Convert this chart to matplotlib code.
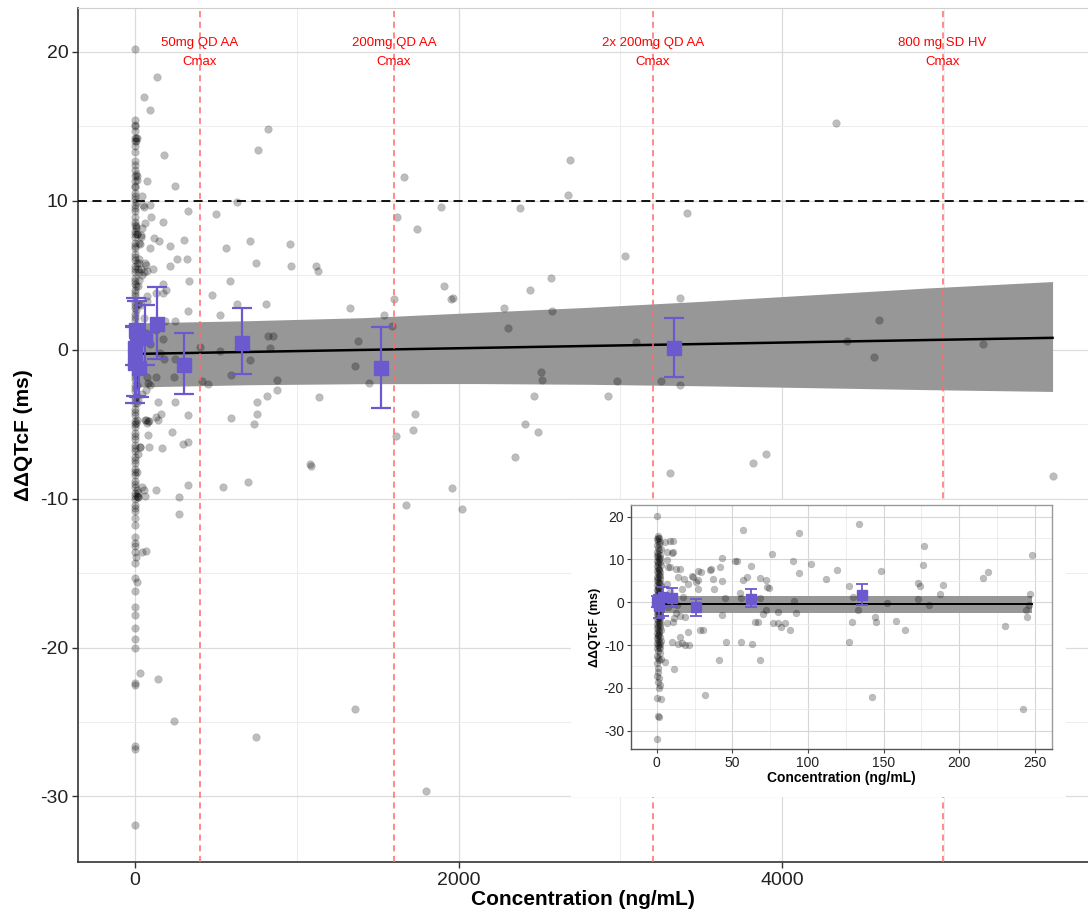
import matplotlib
matplotlib.use('Agg')
import matplotlib.pyplot as plt
from matplotlib.patches import Rectangle
import numpy as np

plt.rcParams['font.family'] = ['Liberation Sans', 'DejaVu Sans']
plt.rcParams['axes.unicode_minus'] = False

# ---------------- data ----------------
# observations at (near) zero concentration
zero_conc = [0.3, 0.6, 1.1, 0.4, 0.9, 1.3, 0.2, 0.7, 1.2, 0.5, 1.0, 0.3, 0.8, 1.4, 0.2, 0.6,
             1.1, 0.4, 0.9, 1.3, 0.2, 0.7, 1.2, 0.5, 1.0, 0.3, 0.8, 1.4, 0.2, 0.6, 1.1, 0.4,
             0.9, 1.3, 0.2, 0.7, 1.2, 0.5, 1.0, 0.3, 0.8, 1.4, 0.2, 0.6, 1.1, 0.4, 0.9, 1.3,
             0.2, 0.7, 1.2, 0.5, 1.0, 0.3, 0.8, 1.4, 0.2, 0.6, 1.1, 0.4, 0.9, 1.3, 0.2, 0.7,
             1.2, 0.5, 1.0, 0.3, 0.8, 1.4, 0.2, 0.6, 1.1, 0.4, 0.9, 1.3, 0.2, 0.7, 0.4]
zero_dqtc = [20.2, 15.4, 15.1, 14.7, 14.2, 13.7, 13.3, 12.7, 12.1, 11.7, 11.3, 10.9, 10.5, 10.1,
             9.7, 9.3, 8.9, 8.4, 8.0, 7.6, 7.2, 6.8, 6.4, 6.0, 5.6, 5.2, 4.8, 4.4, 4.0, 3.6,
             3.2, 2.8, 2.4, 2.0, 1.6, 1.2, 0.8, 0.4, 0.0, -0.4, -0.8, -1.2, -1.6, -2.0, -2.4,
             -2.8, -3.2, -3.6, -4.0, -4.4, -4.8, -5.2, -5.6, -6.0, -6.4, -6.8, -7.2, -7.6,
             -8.0, -8.4, -8.8, -9.2, -9.6, -10.0, -10.4, -10.8, -11.3, -12.6, -13.0, -13.6,
             -14.3, -15.3, -16.2, -17.3, -18.7, -20.0, -22.4, -26.6, -31.9]
zero2_conc = [1.8, 2.2, 2.6, 1.9, 2.4, 2.0, 2.8, 1.7, 2.3, 2.5, 1.9, 2.1, 2.7, 1.8, 2.2, 2.6,
              1.9, 2.4, 2.0, 2.8, 1.7, 2.3, 2.5, 1.9, 2.1, 2.7, 1.8, 2.2, 2.6, 1.9, 2.4, 2.0,
              2.8, 1.7, 2.3]
zero2_dqtc = [15.0, 14.0, 12.4, 11.0, 10.3, 9.5, 8.6, 7.8, 7.0, 6.2, 5.4, 4.6, 3.8, 3.0, 2.2,
              1.4, 0.6, -0.2, -1.0, -1.8, -2.6, -3.4, -4.2, -5.0, -5.8, -6.6, -7.4, -8.2,
              -9.0, -9.8, -10.6, -11.8, -13.2, -17.8, -19.4]

# observations between ~3 and 250 ng/mL (visible in the inset)
low_conc = [11, 9, 6.6, 10, 11, 7.7, 13, 15.4, 8.8, 6.6, 14.3, 18, 20.5, 8.8, 16.5, 17.6, 7.7,
            13, 13.2, 15.4, 11.5, 18.7, 11, 6.6, 15.4, 10, 14, 18.7, 21.3, 16.5, 5.5, 11.6,
            2.9, 1.5, 21, 24, 27.5, 26, 6.6, 5.5, 28.6, 30.8, 23, 29, 27, 27,
            32, 35, 36, 37, 38, 41, 42, 43, 43, 43, 45, 46, 52, 53, 55, 56, 56, 57, 57, 60,
            62, 63, 65, 67, 68, 68, 68, 70, 72, 72, 73, 74, 76, 77, 80, 80, 82, 85, 88, 90,
            91, 92, 94, 94, 102, 112, 119, 127, 127, 129, 130, 133, 134, 142, 144, 145, 148,
            152, 158, 164, 173, 174, 173, 176, 177, 180, 187, 189, 216, 219, 230, 242, 244,
            245, 246, 247, 248]
low_dqtc = [14.2, 14.2, 11.8, 11.4, 11.7, 8.2, 7.8, 7.8, 8.3, 4.3, 5.8, 5.4, 4.3, 2.7, 3.1,
            1.2, -1.2, -2.4, -0.6, -3.1, -3.6, -3.4, -4.7, -4.9, -8.2, -9.4, -9.8, -9.9,
            -9.9, -9.6, -13.9, -15.6, -22.5, -26.8, -7.0, 5.8, 7.2, 4.7, 9.9, 14.0, -6.5,
            -6.5, 6.1, 7.1, 3.1, 5.2,
            -21.7, 7.6, 7.7, 5.4, 3.0, -13.6, 8.2, 10.3, 5.0, -3.0, 1.0, -9.2, 9.7, 9.6, 2.1,
            -9.4, 1.0, 17.0, 5.2, 5.8, 8.5, -9.8, -4.7, -4.7, -13.5, 5.7, 1.1, -2.7, 5.3,
            -1.8, 3.6, 3.3, 11.3, -4.9, -4.8, -2.2, -5.7, -4.8, -6.5, 9.7, 0.4, -2.4, 16.1,
            6.8, 8.9, 5.4, 7.5, -9.4, 3.8, -4.5, 1.3, -1.8, 18.3, -22.1, -3.5, -4.7, 7.3,
            -0.2, -4.3, -6.6, 4.4, 3.8, 0.7, 8.6, 13.1, -0.6, 1.9, 4.0, 5.6, 7.0, -5.5,
            -24.9, -1.8, -3.5, -0.6, 1.9, 11.0]

# observations above 250 ng/mL
high_conc = [258, 320, 303, 326, 334, 330, 299, 330, 330, 270, 270, 330, 402, 413, 452, 479,
             500, 526, 526, 545, 563, 588, 594, 594, 630, 630, 698, 708, 712, 733, 745, 749,
             753, 753, 760, 809, 815, 822, 820, 855, 836, 877, 877, 960, 966, 1080, 1090,
             1121, 1130, 1139, 1327, 1358, 1362, 1379, 1449, 1538, 1589, 1600, 1610, 1620,
             1662, 1672, 1715, 1730, 1740, 1796, 1889, 1909, 1951, 1967, 1957, 2023, 2281,
             2302, 2349, 2380, 2409, 2442, 2466, 2491, 2508, 2518, 2570, 2580, 2677, 2689,
             2920, 2978, 3028, 3096, 3251, 3309, 3370, 3370, 3412, 3818, 3901, 4330, 4400,
             4567, 4599, 5243, 5670]
high_dqtc = [6.1, 6.1, 7.4, 9.3, 4.65, 2.6, -6.3, -6.2, -9.1, -9.9, -11.0, -4.4, 0.2, -2.1,
             -2.3, 3.65, 9.1, 2.3, -0.1, -9.2, 6.8, 4.6, -1.7, -4.6, 9.9, 3.1, -8.9, 7.3,
             -0.7, -5.0, -26.0, 5.8, -3.5, -4.3, 13.4, 3.1, -3.1, 14.8, 0.9, 0.9, 0.1, -2.0,
             -2.7, 7.1, 5.6, -7.7, -7.8, 5.6, 5.3, -3.2, 2.8, -24.1, -1.1, 0.6, -2.2, 2.3,
             1.6, 3.4, -5.8, 8.9, 11.6, -10.4, -5.4, -4.3, 8.1, -29.6, 9.6, 4.3, 3.4, 3.5,
             -9.3, -10.7, 2.8, 1.45, -7.2, 9.5, -5.0, 4.0, -3.1, -5.5, -1.5, -2.0, 4.8, 2.6,
             10.4, 12.75, -3.1, -2.1, 6.3, 0.5, -2.1, -8.3, 3.5, -2.35, 9.2, -7.6, -7.0,
             15.2, 0.6, -0.5, 2.0, 0.4, -8.45]

# binned means with 90% CI
bin_conc = [0.3, 1.5, 4, 10, 26, 62, 136, 303, 663, 1523, 3330]
bin_mean = [0.1, -0.9, 1.3, 1.1, -1.2, 0.8, 1.7, -1.0, 0.45, -1.2, 0.1]
bin_lo = [-1.0, -3.6, -3.1, -1.0, -3.2, -1.0, -0.6, -3.0, -1.6, -3.9, -1.8]
bin_hi = [1.55, 1.6, 3.5, 3.3, 0.8, 3.0, 4.2, 1.1, 2.8, 1.5, 2.1]

# linear model fit (main) and confidence band
fit_conc = [0, 5670]
fit_dqtc = [-0.28, 0.8]
band_conc = [0, 700, 1400, 2100, 2800, 3500, 4200, 4900, 5670]
band_upper = [1.8, 1.95, 2.15, 2.5, 2.85, 3.25, 3.7, 4.15, 4.58]
band_lower = [-2.5, -2.35, -2.28, -2.27, -2.32, -2.42, -2.55, -2.68, -2.8]

# fit for the low-concentration inset
inset_fit_conc = [0, 248]
inset_fit_dqtc = [-0.5, -0.5]
inset_band_upper = [1.45, 1.45]
inset_band_lower = [-2.57, -2.57]

# reference Cmax lines
cmax_conc = [400, 1600, 3200, 4990]
cmax_labels = ["50mg QD AA", "200mg QD AA", "2x 200mg QD AA", "800 mg SD HV"]
threshold = 10

conc = np.array(zero_conc + zero2_conc + low_conc + high_conc, dtype=float)
dqtc = np.array(zero_dqtc + zero2_dqtc + low_dqtc + high_dqtc, dtype=float)

BLUE = '#6A5ACD'
BAND = '#979797'
PT_FACE = (0, 0, 0, 0.26)
PT_EDGE = (0, 0, 0, 0.14)

W, H = 1088, 913
fig = plt.figure(figsize=(W / 100, H / 100), dpi=100)

# ---------------- main panel ----------------
ax = fig.add_axes([78 / W, 1 - 862 / H, 1 - 78 / W, (862 - 8) / H])
ax.set_xlim(-352, 5889)
ax.set_ylim(-34.4, 22.95)
ax.set_xticks([0, 2000, 4000])
ax.set_xticks([1000, 3000, 5000], minor=True)
ax.set_yticks([-30, -20, -10, 0, 10, 20])
ax.set_yticks([-25, -15, -5, 5, 15], minor=True)
ax.grid(which='major', color='#dcdcdc', lw=0.9)
ax.grid(which='minor', color='#ececec', lw=0.7)
ax.set_axisbelow(True)
for s in ['left', 'bottom']:
    ax.spines[s].set_color('#333333')
    ax.spines[s].set_linewidth(1.2)
ax.spines['top'].set_color('#cfcfcf')
ax.spines['right'].set_visible(False)
ax.tick_params(which='major', direction='out', length=4, width=1, color='#333333',
               labelsize=14, labelcolor='#222222', pad=3)
ax.tick_params(which='minor', length=0)

ax.fill_between(band_conc, band_lower, band_upper, color=BAND, lw=0, zorder=2)
ax.scatter(conc, dqtc, s=30, facecolor=PT_FACE, edgecolor=PT_EDGE, lw=0.5, zorder=3)
ax.plot(fit_conc, fit_dqtc, color='black', lw=1.8, zorder=4)
ax.axhline(threshold, color='black', lw=1.3, ls=(0, (5, 3)), zorder=4)
for xv, lab in zip(cmax_conc, cmax_labels):
    ax.axvline(xv, color='#ff6b6b', lw=1.1, ls=(0, (4, 3)), zorder=4)
    ax.text(xv, 20.6, lab, color='red', ha='center', va='center', fontsize=9.5, zorder=5)
    ax.text(xv, 19.33, 'Cmax', color='red', ha='center', va='center', fontsize=9.5, zorder=5)

yerr = [np.array(bin_mean) - np.array(bin_lo), np.array(bin_hi) - np.array(bin_mean)]
ax.errorbar(bin_conc, bin_mean, yerr=yerr, fmt='s', color=BLUE, ms=9.5, capsize=7,
            elinewidth=1.6, capthick=1.6, zorder=6)

ax.set_xlabel('Concentration (ng/mL)', fontsize=15, fontweight='bold')
ax.set_ylabel('ΔΔQTcF (ms)', fontsize=15, fontweight='bold')
ax.xaxis.set_label_coords(0.5, -0.033)
ax.yaxis.set_label_coords(-0.045, 0.5)

# ---------------- inset ----------------
bg = Rectangle((571 / W, 1 - 797 / H), (1066 - 571) / W, (797 - 500) / H,
               transform=fig.transFigure, facecolor='white', edgecolor='none', zorder=1)
fig.add_artist(bg)

ins = fig.add_axes([631 / W, 1 - 749 / H, 421 / W, 244 / H])
ins.set_zorder(2)
ins.set_xlim(-17, 261.3)
ins.set_ylim(-34.3, 22.73)
ins.set_xticks([0, 50, 100, 150, 200, 250])
ins.set_xticks([25, 75, 125, 175, 225], minor=True)
ins.set_yticks([-30, -20, -10, 0, 10, 20])
ins.set_yticks([-25, -15, -5, 5, 15], minor=True)
ins.grid(which='major', color='#d6d6d6', lw=0.8)
ins.grid(which='minor', color='#eaeaea', lw=0.6)
ins.set_axisbelow(True)
for s in ins.spines.values():
    s.set_color('#9a9a9a')
    s.set_linewidth(1.0)
ins.spines['left'].set_color('#555555')
ins.spines['bottom'].set_color('#555555')
ins.tick_params(which='major', direction='out', length=3, width=0.8, color='#444444',
                labelsize=10, labelcolor='#222222', pad=2)
ins.tick_params(which='minor', length=0)

mask = conc <= 250
ins.fill_between(inset_fit_conc, inset_band_lower, inset_band_upper, color=BAND, lw=0,
                 zorder=2)
ins.scatter(conc[mask], dqtc[mask], s=24, facecolor=PT_FACE, edgecolor=PT_EDGE, lw=0.5,
            zorder=3)
ins.plot(inset_fit_conc, inset_fit_dqtc, color='black', lw=1.4, zorder=4)
bmask = np.array(bin_conc) <= 250
ins.errorbar(np.array(bin_conc)[bmask], np.array(bin_mean)[bmask],
             yerr=[yerr[0][bmask], yerr[1][bmask]], fmt='s', color=BLUE, ms=7,
             capsize=4.5, elinewidth=1.3, capthick=1.3, zorder=6)
ins.set_xlabel('Concentration (ng/mL)', fontsize=10, fontweight='bold', labelpad=1)
ins.set_ylabel('ΔΔQTcF (ms)', fontsize=9, fontweight='bold', labelpad=2)

fig.savefig('out.png', dpi=100)
